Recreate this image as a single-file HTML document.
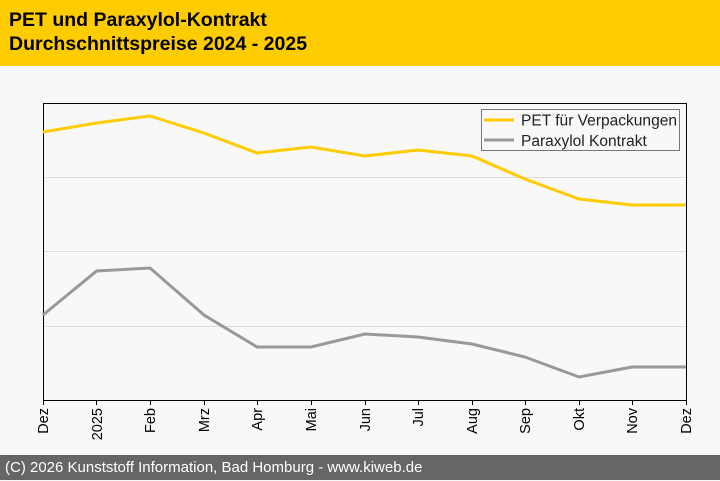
<!DOCTYPE html>
<html><head><meta charset="utf-8"><style>
body{margin:0;width:720px;height:480px;overflow:hidden;background:#f8f8f8;font-family:"Liberation Sans",sans-serif}
.h{position:absolute;left:0;top:0;width:720px;height:66px;background:#ffcc00}
.h div{position:absolute;left:9px;font-weight:bold;font-size:19.5px;color:#000}
.f{position:absolute;left:0;top:455px;width:720px;height:25px;background:#666;color:#fff;font-size:15px;line-height:26px;padding-left:5px;box-sizing:border-box}
</style></head><body>
<div class="h"><div style="top:9px">PET und Paraxylol-Kontrakt</div><div style="top:33px">Durchschnittspreise 2024 - 2025</div></div>
<svg style="position:absolute;left:0;top:0" width="720" height="480">
<g stroke="#ddd" stroke-width="1"><line x1="43" y1="177.5" x2="686" y2="177.5"/><line x1="43" y1="251.5" x2="686" y2="251.5"/><line x1="43" y1="326.5" x2="686" y2="326.5"/></g>
<rect x="43.5" y="103.5" width="643" height="297" fill="none" stroke="#000"/>
<g stroke="#000"><line x1="43.5" y1="400" x2="43.5" y2="405"/><line x1="96.5" y1="400" x2="96.5" y2="405"/><line x1="150.5" y1="400" x2="150.5" y2="405"/><line x1="204.5" y1="400" x2="204.5" y2="405"/><line x1="257.5" y1="400" x2="257.5" y2="405"/><line x1="311.5" y1="400" x2="311.5" y2="405"/><line x1="365.5" y1="400" x2="365.5" y2="405"/><line x1="418.5" y1="400" x2="418.5" y2="405"/><line x1="472.5" y1="400" x2="472.5" y2="405"/><line x1="525.5" y1="400" x2="525.5" y2="405"/><line x1="579.5" y1="400" x2="579.5" y2="405"/><line x1="632.5" y1="400" x2="632.5" y2="405"/><line x1="686.5" y1="400" x2="686.5" y2="405"/></g>
<polyline fill="none" stroke="#ffcc00" stroke-width="3" points="43,132 96.6,123 150,116 204,133 257,153 311,147 365,156 418,150 472,156 525,179 579,199 632,205 686,205"/>
<polyline fill="none" stroke="#999" stroke-width="3" points="43,315 96.6,271 150,268 204,315 257,347 311,347 365,334 418,337 472,344 525,357 579,377 632,367 686,367"/>
<g font-size="14.5" fill="#000" text-anchor="end">
<text transform="translate(48,408) rotate(-90)">Dez</text>
<text transform="translate(102,408) rotate(-90)">2025</text>
<text transform="translate(155,408) rotate(-90)">Feb</text>
<text transform="translate(209,408) rotate(-90)">Mrz</text>
<text transform="translate(262,408) rotate(-90)">Apr</text>
<text transform="translate(316,408) rotate(-90)">Mai</text>
<text transform="translate(370,408) rotate(-90)">Jun</text>
<text transform="translate(423,408) rotate(-90)">Jul</text>
<text transform="translate(477,408) rotate(-90)">Aug</text>
<text transform="translate(530,408) rotate(-90)">Sep</text>
<text transform="translate(584,408) rotate(-90)">Okt</text>
<text transform="translate(637,408) rotate(-90)">Nov</text>
<text transform="translate(691,408) rotate(-90)">Dez</text>
</g>
<rect x="481.5" y="109.5" width="198" height="41" fill="#f8f8f8" stroke="#777"/>
<line x1="484" y1="120" x2="514" y2="120" stroke="#ffcc00" stroke-width="3"/>
<line x1="484" y1="140" x2="514" y2="140" stroke="#999" stroke-width="3"/>
<g font-size="15.5" fill="#222"><text x="521" y="125.5" textLength="156" lengthAdjust="spacingAndGlyphs">PET für Verpackungen</text><text x="521" y="146">Paraxylol Kontrakt</text></g>
</svg>
<div class="f">(C) 2026 Kunststoff Information, Bad Homburg - www.kiweb.de</div>
</body></html>
